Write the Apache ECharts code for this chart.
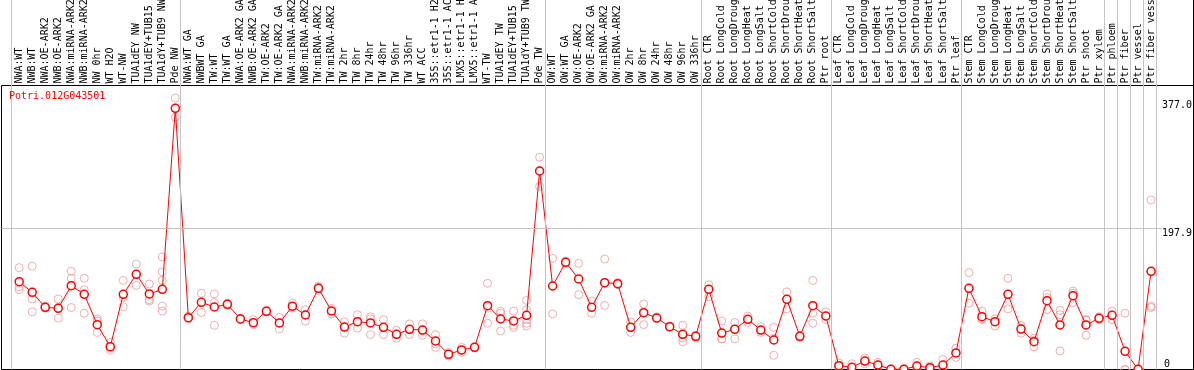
<!DOCTYPE html>
<html><head><meta charset="utf-8">
<script src="https://cdn.jsdelivr.net/npm/echarts@6/dist/echarts.min.js"></script>
<style>html,body{margin:0;padding:0;background:#fff}#c{width:1194px;height:370px}</style>
</head><body><div id="c"></div>
<script>
const geneName = 'Potri.012G043501';
const categories = [
  'NWA:WT','NWB:WT','NWA:OE-ARK2','NWB:OE-ARK2','NWA:miRNA-ARK2','NWB:miRNA-ARK2','NW 0hr','WT H2O','WT-NW','TUA1dEY NW','TUA1dEY+TUB15 NW','TUA1dY+TUB9 NW','Pde NW',
  'NWA:WT GA','NWBWT GA','TW:WT','TW:WT GA','NWA:OE-ARK2 GA','NWB:OE-ARK2 GA','TW:OE-ARK2','TW:OE-ARK2 GA','NWA:miRNA-ARK2','NWB:miRNA-ARK2','TW:miRNA-ARK2','TW:miRNA-ARK2','TW 2hr','TW 8hr','TW 24hr','TW 48hr','TW 96hr','TW 336hr','WT ACC','35S::etr1-1 H2O','35S::etr1-1 ACC','LMX5::etr1-1 H2O','LMX5::etr1-1 ACC','WT-TW','TUA1dEY TW','TUA1dEY+TUB15 TW','TUA1dY+TUB9 TW','Pde TW',
  'OW:WT','OW:WT GA','OW:OE-ARK2','OW:OE-ARK2 GA','OW:miRNA-ARK2','OW:miRNA-ARK2','OW 2hr','OW 8hr','OW 24hr','OW 48hr','OW 96hr','OW 336hr',
  'Root CTR','Root LongCold','Root LongDrought','Root LongHeat','Root LongSalt','Root ShortCold','Root ShortDrought','Root ShortHeat','Root ShortSalt','Ptr root',
  'Leaf CTR','Leaf LongCold','Leaf LongDrought','Leaf LongHeat','Leaf LongSalt','Leaf ShortCold','Leaf ShortDrought','Leaf ShortHeat','Leaf ShortSalt','Ptr leaf',
  'Stem CTR','Stem LongCold','Stem LongDrought','Stem LongHeat','Stem LongSalt','Stem ShortCold','Stem ShortDrought','Stem ShortHeat','Stem ShortSalt','Ptr shoot','Ptr xylem',
  'Ptr phloem','Ptr fiber','Ptr vessel','Ptr fiber vessel'
];
const groupSizes = [13, 28, 12, 10, 10, 11, 1, 1, 1, 1];
const meanValues = [
  123.2,108.3,87.3,85.9,117.6,105.5,62.9,32.0,105.5,133.6,106.0,112.5,366.6,
  72.7,94.3,87.7,91.5,70.9,65.7,81.7,65.3,88.9,76.5,114.0,82.1,59.6,67.1,65.3,59.2,49.4,56.4,55.4,40.0,21.3,27.4,31.2,89.6,70.9,68.1,76.1,278.6,
  117.2,150.5,127.0,87.3,121.9,120.5,59.2,79.7,72.3,60.1,49.4,46.6,
  112.5,51.2,56.4,70.5,55.4,41.4,98.5,46.6,89.6,75.1,
  5.4,3.1,11.9,6.3,0.3,0.3,4.9,2.5,6.3,23.2,
  114.0,74.1,67.1,105.5,56.8,39.0,96.6,62.5,103.6,62.5,71.8,
  76.1,25.5,0.3,137.8
];
const replicateValues = [
  [143,116,112],[145,99,81],[89,86,87],[99,72,87],[138,128,87],[128,112,79],[71,68,52],[38,30,27],[125,101,88],[148,134,118],[120,98,96],[158,137,125,89,82],[381,367,354],
  [75,73,71],[107,94,80],[106,94,62],[93,91,90],[72,70,71],[70,65,63],[83,81,81],[73,57,65],[93,86,88],[84,68,77],[117,115,111],[86,78,82],[67,51,60],[77,58,67],[74,71,49],[70,49,59],[55,44,49],[64,49,56],[64,48,55],[49,36,31],[24,21,19],[31,27,24],[32,31,30],[121,86,65],[82,79,54],[82,62,59],[97,84,70,65,61],[298,279,257],
  [156,78],[152,150,149],[149,127,105],[96,87,79],[155,121,90],[122,120,119],[67,59,52],[92,80,63],[74,72,71],[61,60,59],[62,49,44,39],[48,46,44],
  [119,113,102],[68,43,43],[66,57,43],[75,70,66],[60,55,52],[59,44,20],[109,99,85],[48,46,45],[125,79,65],[81,75,70],
  [9,5,2],[8,2,0],[16,12,8],[10,6,3],[1,0,0],[1,0,0],[10,4,1],[5,2,1],[14,4,1],[30,23,17],
  [136,114,93],[82,71,70],[71,67,61],[128,105,85],[62,57,51],[44,41,32],[106,101,84],[83,77,26],[110,107,94],[70,69,48],[74,72,70],
  [82,76,70],[79,0,0],[0,0,0],[238,89,87]
];
const yTickValues = [0, 197.9, 377.0];

// ---- layout / style ----
const W = 1194;
const X0 = 19.2, STEP = 13.01;
const PLOT_LEFT = 1.5, PLOT_RIGHT = 1193.5, PLOT_TOP = 85.5, PLOT_BOTTOM = 369.5;
const PX_PER_UNIT = 0.7125;
const yMax = PLOT_BOTTOM / PX_PER_UNIT;
const xMin = -(X0 - PLOT_LEFT) / STEP;
const xMax = xMin + (PLOT_RIGHT - PLOT_LEFT) / STEP;
const catLeft = X0 - STEP / 2;
const catRight = W - catLeft - categories.length * STEP;
const LABEL_X = 1162;
const SEP_SHIFT = -0.1;
const MONO = 'DejaVu Sans Mono';
const GRAY = '#c4c4c4';

const boundaries = [];
let acc = 0;
boundaries.push(acc - 0.5 + SEP_SHIFT);
groupSizes.forEach(g => { acc += g; boundaries.push(acc - 0.5 + SEP_SHIFT); });

const repData = [];
replicateValues.forEach((arr, i) => arr.forEach(v => repData.push([i, v])));

const fmt = v => v === 0 ? '0' : v.toFixed(1);
const hiddenVal = (gi, min, max) => ({gridIndex: gi, type: 'value', show: false, min, max});

const markLines = boundaries.map(b => ({xAxis: b, lineStyle: {color: GRAY, width: 1, type: 'solid'}}));
markLines.push([{coord: [xMin, yTickValues[1]], lineStyle: {color: GRAY, width: 1, type: 'solid'}},
                {coord: [xMin + (LABEL_X - PLOT_LEFT) / STEP, yTickValues[1]]}]);
markLines.push({xAxis: xMax, lineStyle: {color: '#000', width: 1, type: 'solid'}});

const chart = echarts.init(document.getElementById('c'), null, {renderer: 'canvas'});
chart.setOption({
  animation: false,
  backgroundColor: '#fff',
  title: {text: geneName, left: 9, top: 91, padding: 0,
    textStyle: {fontFamily: MONO, fontSize: 10, fontWeight: 'normal', color: '#ff0000'}},
  grid: [
    {left: PLOT_LEFT, right: W - PLOT_RIGHT, top: 0, bottom: 370 - PLOT_BOTTOM, containLabel: false, outerBoundsMode: 'none'},
    {left: catLeft, right: catRight, top: 0, bottom: 370 - PLOT_BOTTOM, containLabel: false, outerBoundsMode: 'none'},
    {left: PLOT_LEFT, right: W - PLOT_RIGHT, top: PLOT_TOP, bottom: 370 - PLOT_BOTTOM, show: true,
     borderColor: '#000', borderWidth: 1, backgroundColor: 'rgba(0,0,0,0)', containLabel: false, outerBoundsMode: 'none'}
  ],
  xAxis: [
    hiddenVal(0, xMin, xMax),
    {gridIndex: 1, type: 'category', data: categories, boundaryGap: true, position: 'top', offset: -PLOT_TOP,
     axisLine: {show: false, onZero: false}, axisTick: {show: false}, splitLine: {show: false},
     axisLabel: {interval: 0, rotate: -90, margin: 2, fontFamily: MONO, fontSize: 10, color: '#000', hideOverlap: false}},
    hiddenVal(2, 0, 1)
  ],
  yAxis: [
    {gridIndex: 0, type: 'value', min: 0, max: yMax, position: 'right', offset: LABEL_X - PLOT_RIGHT,
     axisLine: {show: false}, axisTick: {show: false}, splitLine: {show: false},
     axisLabel: {show: true, inside: false, margin: 0, customValues: yTickValues.filter(v => v > 0), formatter: fmt,
       align: 'left', verticalAlign: 'top', fontFamily: MONO, fontSize: 10, color: '#000'}},
    {gridIndex: 0, type: 'value', min: 0, max: yMax, position: 'right', offset: LABEL_X + 2 - PLOT_RIGHT,
     axisLine: {show: false}, axisTick: {show: false}, splitLine: {show: false},
     axisLabel: {show: true, inside: false, margin: 0, customValues: yTickValues.filter(v => v === 0), formatter: fmt,
       align: 'left', verticalAlign: 'bottom', fontFamily: MONO, fontSize: 10, color: '#000'}},
    hiddenVal(1, 0, yMax),
    hiddenVal(2, 0, 1)
  ],
  series: [
    {type: 'scatter', xAxisIndex: 0, yAxisIndex: 0, data: repData, symbol: 'circle', symbolSize: 8, clip: false, z: 2,
     itemStyle: {color: 'rgba(0,0,0,0)', borderColor: '#ee9a9a', borderWidth: 1},
     markLine: {silent: true, symbol: ['none', 'none'], label: {show: false}, animation: false, data: markLines}},
    {type: 'line', xAxisIndex: 1, yAxisIndex: 2, data: meanValues, symbol: 'circle', symbolSize: 8, clip: false, z: 3,
     lineStyle: {color: '#ff0000', width: 1}, itemStyle: {color: '#fff', borderColor: '#ff0000', borderWidth: 1.5}}
  ]
});
</script></body></html>
